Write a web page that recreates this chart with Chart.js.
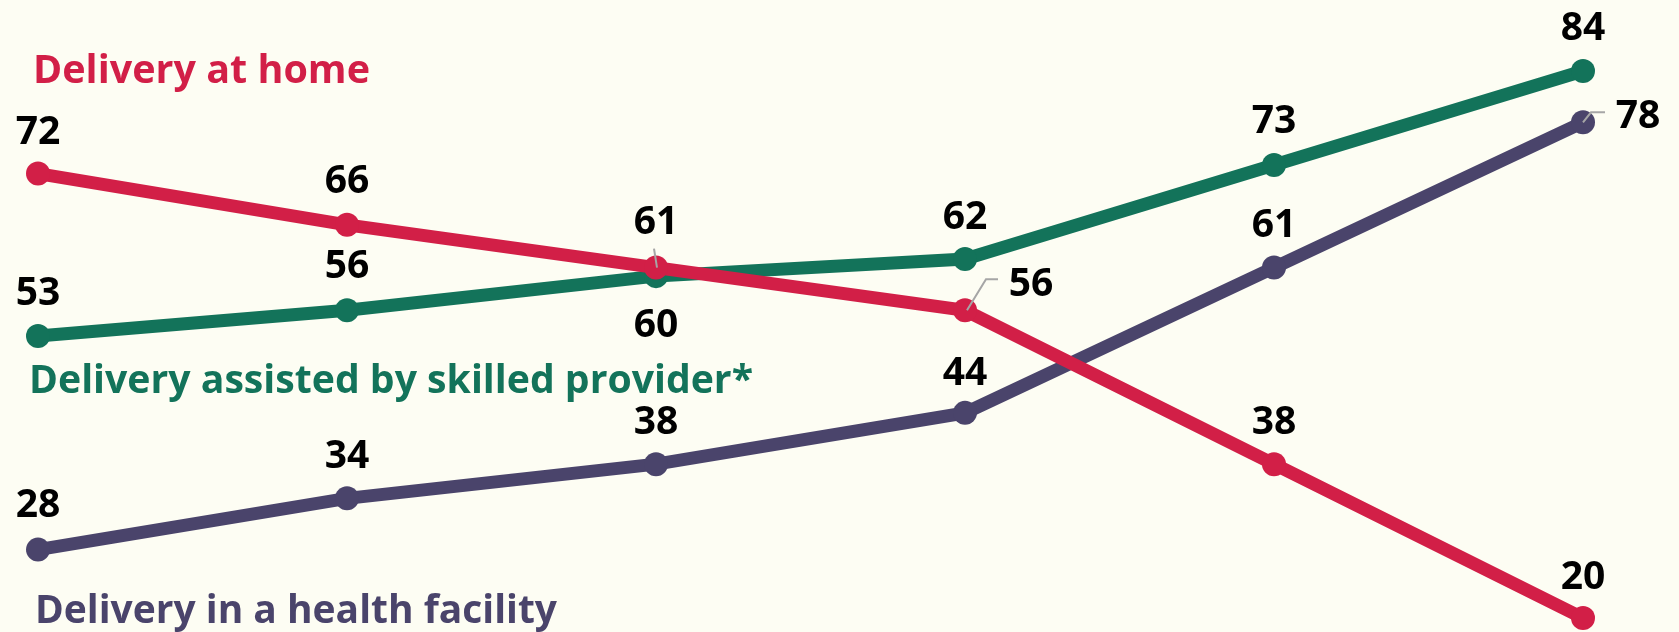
<!DOCTYPE html>
<html>
<head>
<meta charset="utf-8">
<script src="https://cdn.jsdelivr.net/npm/chart.js@4.4.1/dist/chart.umd.min.js"></script>
<style>
html,body{margin:0;padding:0;background:#FDFDF3;}
#wrap{width:1679px;height:632px;position:relative;}
</style>
</head>
<body>
<div id="wrap"><canvas id="c" width="1679" height="632"></canvas></div>
<script>
// ---- data ----
const categories = ['Survey 1', 'Survey 2', 'Survey 3', 'Survey 4', 'Survey 5', 'Survey 6'];
const deliveryAtHome = [72, 66, 61, 56, 38, 20];
const deliverySkilled = [53, 56, 60, 62, 73, 84];
const deliveryFacility = [28, 34, 38, 44, 61, 78];
const seriesNames = ['Delivery at home', 'Delivery assisted by skilled provider*', 'Delivery in a health facility'];

// ---- styles ----
const COLORS = ['#D21F47', '#13735A', '#4A446B'];
const BG = '#FDFDF3';
const LABEL_FONT = 'bold 39px "Open Sans"';
const NAME_FONT = 'bold 40px "Open Sans"';

// label offsets relative to each point (dx, dy of label centre), optional leader
const labelPlacement = [
  [{dy:-44},{dy:-46},{dy:-48, leader:[[-2,-19],[1,0]]},{dx:66,dy:-28, leader:[[2,0],[21,-31],[33,-31]]},{dy:-44},{dy:-43}],
  [{dy:-45},{dy:-46},{dy:47},{dy:-44},{dy:-46},{dy:-45}],
  [{dy:-47},{dy:-44},{dy:-44},{dy:-42},{dy:-45},{dx:55,dy:-8, leader:[[0,0],[8,-10],[22,-10]]}]
];
const namePlacement = [
  {x:33, y:83, w:337},
  {x:29, y:393, w:724},
  {x:35, y:623, w:522}
];

const bgPlugin = {
  id:'bg',
  beforeDraw(chart){
    const ctx = chart.ctx;
    ctx.save();
    ctx.fillStyle = BG;
    ctx.fillRect(0,0,chart.width,chart.height);
    ctx.restore();
  }
};

const labelPlugin = {
  id:'labels',
  afterDatasetsDraw(chart){
    const ctx = chart.ctx;
    ctx.save();
    chart.data.datasets.forEach((ds, di) => {
      const meta = chart.getDatasetMeta(di);
      meta.data.forEach((pt, i) => {
        const p = labelPlacement[di][i] || {};
        const dx = p.dx || 0, dy = p.dy || 0;
        if (p.leader) {
          ctx.strokeStyle = '#A6A6A6';
          ctx.lineWidth = 2;
          ctx.beginPath();
          p.leader.forEach((q, k) => {
            const X = pt.x + q[0], Y = pt.y + q[1];
            if (k === 0) ctx.moveTo(X, Y); else ctx.lineTo(X, Y);
          });
          ctx.stroke();
        }
        ctx.fillStyle = '#000';
        ctx.font = LABEL_FONT;
        ctx.textAlign = 'center';
        ctx.textBaseline = 'alphabetic';
        ctx.fillText(String(ds.data[i]), pt.x + dx, pt.y + dy + 14);
      });
    });
    // series names
    ctx.font = NAME_FONT;
    ctx.textAlign = 'left';
    ctx.textBaseline = 'alphabetic';
    seriesNames.forEach((n, i) => {
      const np = namePlacement[i];
      const m = ctx.measureText(n).width;
      const sx = np.w / m;
      ctx.save();
      ctx.translate(np.x, np.y);
      ctx.scale(sx, 1);
      ctx.fillStyle = COLORS[i];
      ctx.fillText(n, 0, 0);
      ctx.restore();
    });
    ctx.restore();
  }
};

function ds(label, data, color){
  return {
    label, data,
    borderColor: color, backgroundColor: color,
    pointBackgroundColor: color, pointBorderColor: color,
    borderWidth: 13, pointRadius: 12, pointHoverRadius: 12, pointBorderWidth: 0,
    tension: 0, clip: false, fill: false
  };
}

new Chart(document.getElementById('c'), {
  type: 'line',
  data: {
    labels: categories,
    datasets: [
      ds(seriesNames[0], deliveryAtHome, COLORS[0]),
      ds(seriesNames[1], deliverySkilled, COLORS[1]),
      ds(seriesNames[2], deliveryFacility, COLORS[2])
    ]
  },
  options: {
    responsive: false,
    animation: false,
    events: [],
    layout: { autoPadding: false, padding: { left: 38, right: 96, top: 0, bottom: 0 } },
    plugins: { legend: { display: false }, tooltip: { enabled: false }, title: { display: false } },
    scales: {
      x: { display: false, offset: false },
      y: { display: false, min: 18.36, max: 92.31 }
    }
  },
  plugins: [bgPlugin, labelPlugin]
});
</script>
</body>
</html>
